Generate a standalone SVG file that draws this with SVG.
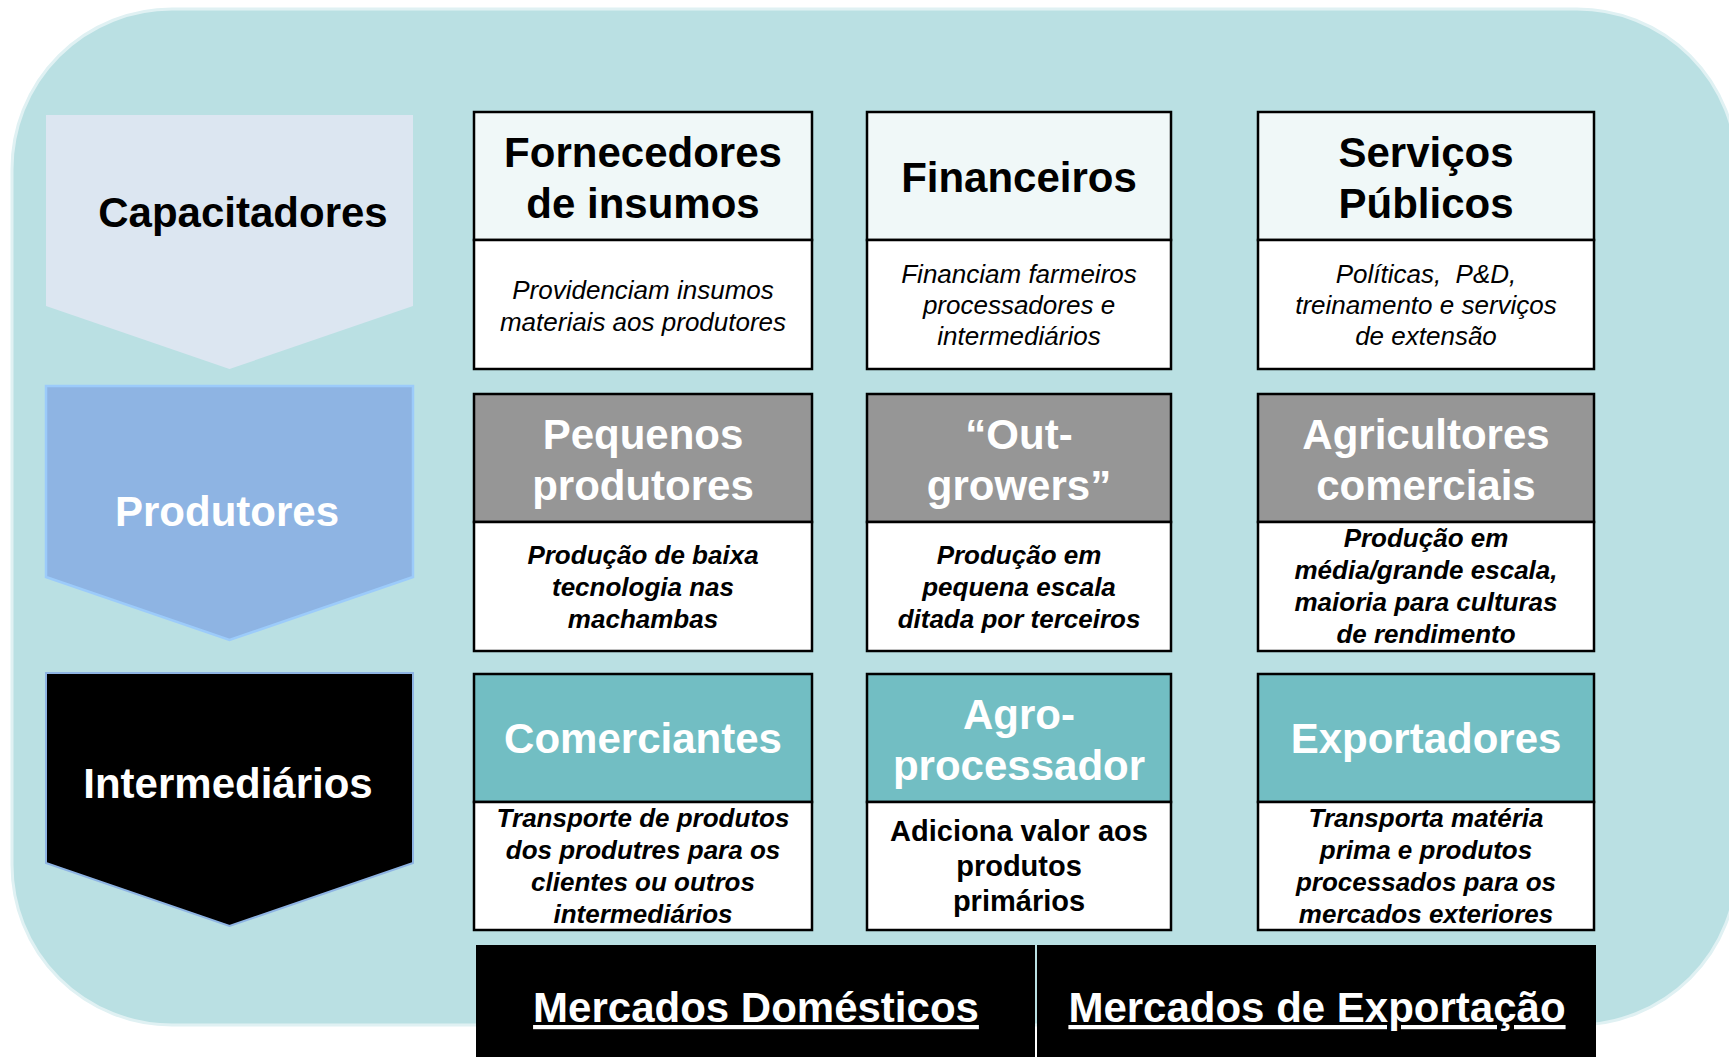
<svg xmlns="http://www.w3.org/2000/svg" width="1729" height="1057" viewBox="0 0 1729 1057">
<style>
text{font-family:"Liberation Sans",Arial,sans-serif;text-anchor:middle}
.h{font-size:42px;font-weight:bold}
.hw{font-size:42px;font-weight:bold;fill:#fff}
.d{font-size:26px;font-style:italic;fill:#000}
.db{font-size:26px;font-style:italic;font-weight:bold;fill:#000}
.dp{font-size:29px;font-weight:bold;fill:#000}
.box{stroke:#000;stroke-width:2.5}
.top1{fill:#F0F8F8}
.top2{fill:#969696}
.top3{fill:#72BEC3}
.low{fill:#fff}
.mk{font-size:42px;font-weight:bold;fill:#fff;text-decoration:underline}
</style>
<rect x="0" y="0" width="1729" height="1057" fill="#fff"/>
<rect id="background" x="12" y="9" width="1725" height="1016" rx="160" ry="160" fill="#BAE0E3" stroke="#E0F1F3" stroke-width="3"/>
<g id="connectors"/>
<g id="capacitadores">
<polygon points="46,115 413,115 413,306 229.5,369 46,306" fill="#DCE6F1"/>
<text class="h" x="243" y="227">Capacitadores</text>
</g>
<g id="produtores">
<polygon points="46,386 413,386 413,577 229.5,640 46,577" fill="#8EB4E3" stroke="#9CCBFA" stroke-width="2.5"/>
<text class="hw" x="227" y="526">Produtores</text>
</g>
<g id="intermediarios">
<polygon points="46,673 413,673 413,863 229.5,926 46,863" fill="#000" stroke="#8EB4E3" stroke-width="2"/>
<text class="hw" x="228" y="798">Intermediários</text>
</g>
<g id="fornecedores">
<rect class="box top1" x="474" y="112" width="338" height="128"/>
<rect class="box low" x="474" y="240" width="338" height="129"/>
<text class="h" x="643" y="167">Fornecedores</text>
<text class="h" x="643" y="218">de insumos</text>
<text class="d" x="643" y="299">Providenciam insumos</text>
<text class="d" x="643" y="331">materiais aos produtores</text>
</g>
<g id="financeiros">
<rect class="box top1" x="867" y="112" width="304" height="128"/>
<rect class="box low" x="867" y="240" width="304" height="129"/>
<text class="h" x="1019" y="192">Financeiros</text>
<text class="d" x="1019" y="283">Financiam farmeiros</text>
<text class="d" x="1019" y="314">processadores e</text>
<text class="d" x="1019" y="345">intermediários</text>
</g>
<g id="servicos">
<rect class="box top1" x="1258" y="112" width="336" height="128"/>
<rect class="box low" x="1258" y="240" width="336" height="129"/>
<text class="h" x="1426" y="167">Serviços</text>
<text class="h" x="1426" y="218">Públicos</text>
<text class="d" x="1426" y="283" xml:space="preserve">Políticas,  P&amp;D,</text>
<text class="d" x="1426" y="314">treinamento e serviços</text>
<text class="d" x="1426" y="345">de extensão</text>
</g>
<g id="pequenos">
<rect class="box top2" x="474" y="394" width="338" height="128"/>
<rect class="box low" x="474" y="522" width="338" height="129"/>
<text class="hw" x="643" y="449">Pequenos</text>
<text class="hw" x="643" y="500">produtores</text>
<text class="db" x="643" y="564">Produção de baixa</text>
<text class="db" x="643" y="596">tecnologia nas</text>
<text class="db" x="643" y="628">machambas</text>
</g>
<g id="outgrowers">
<rect class="box top2" x="867" y="394" width="304" height="128"/>
<rect class="box low" x="867" y="522" width="304" height="129"/>
<text class="hw" x="1019" y="449">“Out-</text>
<text class="hw" x="1019" y="500">growers”</text>
<text class="db" x="1019" y="564">Produção em</text>
<text class="db" x="1019" y="596">pequena escala</text>
<text class="db" x="1019" y="628">ditada por terceiros</text>
</g>
<g id="agricultores">
<rect class="box top2" x="1258" y="394" width="336" height="128"/>
<rect class="box low" x="1258" y="522" width="336" height="129"/>
<text class="hw" x="1426" y="449">Agricultores</text>
<text class="hw" x="1426" y="500">comerciais</text>
<text class="db" x="1426" y="547">Produção em</text>
<text class="db" x="1426" y="579">média/grande escala,</text>
<text class="db" x="1426" y="611">maioria para culturas</text>
<text class="db" x="1426" y="643">de rendimento</text>
</g>
<g id="comerciantes">
<rect class="box top3" x="474" y="674" width="338" height="128"/>
<rect class="box low" x="474" y="802" width="338" height="128"/>
<text class="hw" x="643" y="753">Comerciantes</text>
<text class="db" x="643" y="827">Transporte de produtos</text>
<text class="db" x="643" y="859">dos produtres para os</text>
<text class="db" x="643" y="891">clientes ou outros</text>
<text class="db" x="643" y="923">intermediários</text>
</g>
<g id="agroprocessador">
<rect class="box top3" x="867" y="674" width="304" height="128"/>
<rect class="box low" x="867" y="802" width="304" height="128"/>
<text class="hw" x="1019" y="729">Agro-</text>
<text class="hw" x="1019" y="780">processador</text>
<text class="dp" x="1019" y="841">Adiciona valor aos</text>
<text class="dp" x="1019" y="876">produtos</text>
<text class="dp" x="1019" y="911">primários</text>
</g>
<g id="exportadores">
<rect class="box top3" x="1258" y="674" width="336" height="128"/>
<rect class="box low" x="1258" y="802" width="336" height="128"/>
<text class="hw" x="1426" y="753">Exportadores</text>
<text class="db" x="1426" y="827">Transporta matéria</text>
<text class="db" x="1426" y="859">prima e produtos</text>
<text class="db" x="1426" y="891">processados para os</text>
<text class="db" x="1426" y="923">mercados exteriores</text>
</g>
<g id="mercados-domesticos">
<rect x="476" y="945" width="559" height="112" fill="#000"/>
<text class="mk" x="756" y="1022">Mercados Domésticos</text>
</g>
<g id="mercados-exportacao">
<rect x="1037" y="945" width="559" height="112" fill="#000"/>
<text class="mk" x="1317" y="1022">Mercados de Exportação</text>
</g>
</svg>
